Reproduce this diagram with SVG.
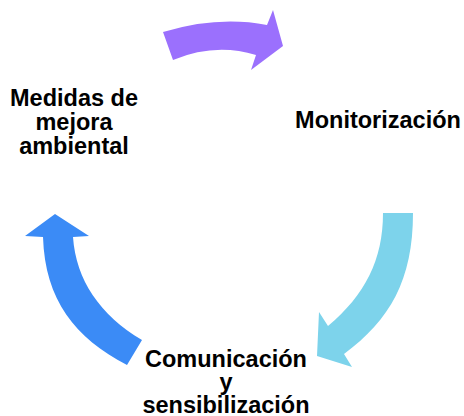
<svg xmlns="http://www.w3.org/2000/svg" width="464" height="416" viewBox="0 0 464 416">
<style>
.lbl{font-family:"Liberation Sans",Arial,sans-serif;font-weight:bold;font-size:23.5px;fill:#000;text-anchor:middle}
</style>
<rect width="464" height="416" fill="#fff"/>
<g id="connectors">
<path id="arrow-purple" d="M163,32 Q218,15.5 267,25 L273,10 L283,46 L251,70 L256,55 Q215,42.5 173,60 Z" fill="#9b70fd"/>
<path id="arrow-lightblue" d="M383,213 L413,213 C413,280 390,320 344,354 L352,367 L317,356 L319,312 L328,326 C365,295 383,260 383,213 Z" fill="#7dd3eb"/>
<path id="arrow-blue" d="M55,214 L89,236 L73,237 C76,280 100,315 142,340 L127,365 C75,338 45,300 43,237 L25,236 Z" fill="#3b8bf6"/>
</g>
<g id="node-medidas">
<text class="lbl" x="74" y="106">Medidas de</text>
<text class="lbl" x="74" y="130">mejora</text>
<text class="lbl" x="74" y="154">ambiental</text>
</g>
<g id="node-monitorizacion">
<text class="lbl" x="378" y="128">Monitorización</text>
</g>
<g id="node-comunicacion">
<text class="lbl" x="226" y="367">Comunicación</text>
<text class="lbl" x="226" y="390">y</text>
<text class="lbl" x="226" y="413">sensibilización</text>
</g>
</svg>
